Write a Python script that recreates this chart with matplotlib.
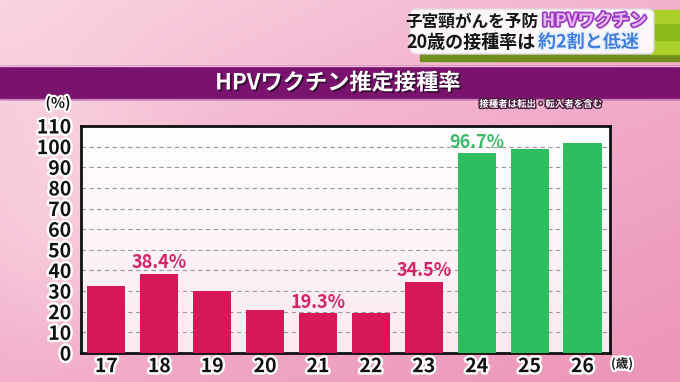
import matplotlib.pyplot as plt
import matplotlib.patheffects as pe
import numpy as np
from matplotlib.patches import FancyBboxPatch, Rectangle
from matplotlib.colors import LinearSegmentedColormap

plt.rcParams["font.family"] = ["Noto Sans CJK JP", "DejaVu Sans"]

ages = ["17", "18", "19", "20", "21", "22", "23", "24", "25", "26"]
rates = [32.6, 38.4, 30.2, 20.8, 19.3, 19.4, 34.5, 96.7, 98.7, 101.8]
value_labels = ["", "38.4%", "", "", "19.3%", "", "34.5%", "96.7%", "", ""]
yticks = list(range(0, 111, 10))

PINK = "#D8175A"
GREEN = "#2FBE5F"
colors = [GREEN if int(a) >= 24 else PINK for a in ages]
label_colors = ["#3DBA6C" if int(a) >= 24 else "#D3246A" for a in ages]

W, H = 680, 382
fig = plt.figure(figsize=(W / 100, H / 100), dpi=100)

# background overlay in pixel coordinates
bg = fig.add_axes([0, 0, 1, 1])
bg.set_xlim(0, W)
bg.set_ylim(H, 0)
bg.axis("off")
yy, xx = np.mgrid[0:H, 0:W]
grad = 0.55 * (yy / H) + 0.45 * (xx / W)
swirl = 0.25 * np.exp(-(((xx - 60) / 90) ** 2 + ((yy - 230) / 140) ** 2))
bg_cmap = LinearSegmentedColormap.from_list("bg", ["#F9D3E1", "#F2AECA", "#EC95B8"])
bg.imshow(np.clip(grad - swirl, 0, 1), cmap=bg_cmap, extent=(0, W, H, 0), aspect="auto", zorder=0)

# purple title band
bg.add_patch(Rectangle((0, 66), W, 33, color="#7A136E", zorder=1))
bg.plot([0, W], [66, 66], color="#E9B6D6", lw=1, zorder=2)
bg.plot([0, W], [99, 99], color="#C27AB5", lw=1, zorder=2)
bg.text(338, 83, "HPVワクチン推定接種率", color="white", fontsize=16, fontweight="bold",
        ha="center", va="center", zorder=3,
        path_effects=[pe.withSimplePatchShadow(offset=(1.2, -1.2), shadow_rgbFace="#2A0628", alpha=0.9)])

# headline box top right
bg.add_patch(Rectangle((420, 52), 260, 9, color="#6E8F1E", zorder=2))
bg.add_patch(Rectangle((650, 10), 30, 44, color="#A9D12A", zorder=2))
bg.add_patch(Rectangle((650, 24), 30, 16, color="#8CBC1C", zorder=2))
bg.add_patch(FancyBboxPatch((410, 9), 244, 45, boxstyle="round,pad=0,rounding_size=6",
                            fc="#FBF7FA", ec="#E3D6E0", lw=1, zorder=3))
outline_w = [pe.withStroke(linewidth=3, foreground="white")]
bg.text(538, 21, "子宮頸がんを予防", fontsize=12, fontweight="bold", color="#151515",
        ha="right", va="center", zorder=4)
bg.text(542, 21, "HPVワクチン", fontsize=12.5, fontweight="bold", color="#E6B8F0",
        ha="left", va="center", zorder=4,
        path_effects=[pe.withStroke(linewidth=2.5, foreground="#9B38C4")])
bg.text(536, 42, "20歳の接種率は", fontsize=13, fontweight="bold", color="#151515",
        ha="right", va="center", zorder=4)
bg.text(538, 42, "約2割と低迷", fontsize=13, fontweight="bold", color="#3F7DE0",
        ha="left", va="center", zorder=4,
        path_effects=[pe.withStroke(linewidth=3, foreground="#EAF1FF")])

# note
bg.text(541, 104, "接種者は転出・転入者を含む", fontsize=6.8, fontweight="bold", color="white",
        ha="center", va="center", zorder=4,
        path_effects=[pe.withStroke(linewidth=2, foreground="#4A1A3A")])

# unit labels
bg.text(58, 103, "(%)", fontsize=10.5, fontweight="bold", color="#151515", ha="center", va="center",
        zorder=4, path_effects=outline_w)
bg.text(622, 364, "(歳)", fontsize=9, fontweight="bold", color="#151515", ha="center", va="center",
        zorder=4, path_effects=outline_w)

# main chart
ax = fig.add_axes([81 / W, 1 - 353 / H, (610 - 81) / W, (353 - 126) / H])
plot_cmap = LinearSegmentedColormap.from_list("plot", ["#FFFFFF", "#FBEAF1"])
ax.imshow(np.linspace(0, 1, 100).reshape(-1, 1), cmap=plot_cmap, extent=(-0.48, 9.52, 0, 110),
          aspect="auto", zorder=0)

x = np.arange(len(ages))
ax.bar(x, rates, width=0.72, color=colors, zorder=3)
for xi, r, lab, lc in zip(x, rates, value_labels, label_colors):
    if lab:
        ax.text(xi, r + 0.8, lab, color=lc, fontsize=13, fontweight="bold",
                ha="center", va="bottom", zorder=4)

ax.set_xlim(-0.48, 9.52)
ax.set_ylim(0, 110)
ax.set_yticks(yticks)
ax.set_xticks(x)
ax.set_xticklabels(ages)
for y in yticks[1:-1]:
    ax.axhline(y, color="#9A9A9A", lw=0.8, ls=(0, (4, 3)), zorder=1)

for s in ax.spines.values():
    s.set_linewidth(2)
    s.set_color("#111111")
ax.tick_params(axis="y", length=0, pad=7)
ax.tick_params(axis="x", length=0, pad=3)
for t in ax.get_yticklabels() + ax.get_xticklabels():
    t.set_fontsize(14)
    t.set_fontweight("bold")
    t.set_color("#111111")
    t.set_path_effects([pe.withStroke(linewidth=3.5, foreground="white")])

fig.savefig("out.png", dpi=100)
